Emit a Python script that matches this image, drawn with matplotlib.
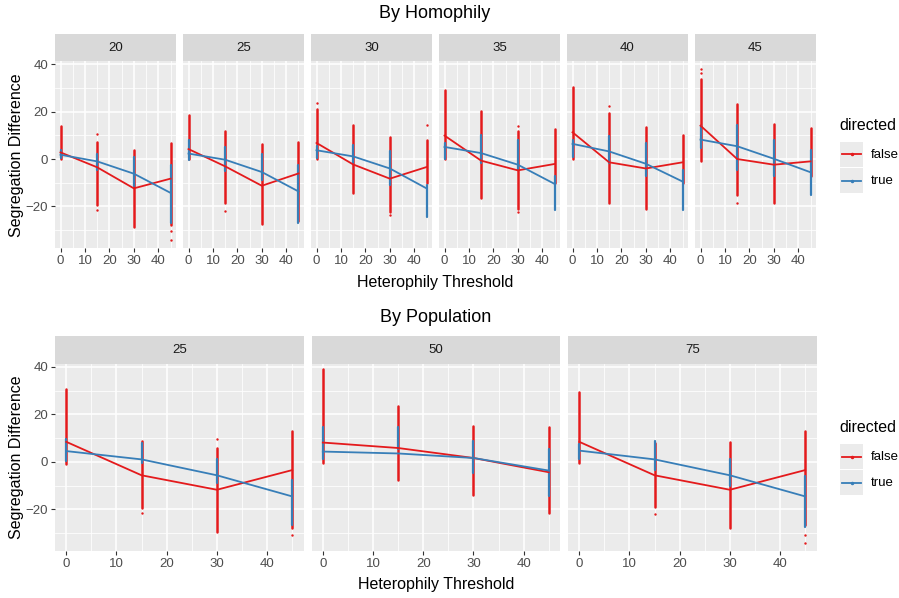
import matplotlib.pyplot as plt

plt.rcParams['font.family'] = ['Liberation Sans', 'DejaVu Sans']

RED = '#E41A1C'
BLUE = '#377EB8'

thresholds = [0, 15, 30, 45]

# ---- By Homophily ----
homophily = ['20', '25', '30', '35', '40', '45']
homo_false_mean = [[2.8, -3.5, -12.4, -8.3], [4.2, -3.1, -11.3, -6.1], [6.8, -2.3, -8.3, -3.4],
                   [9.9, -0.7, -4.8, -2.1], [11.3, -1.4, -4.0, -1.4], [14.1, 0.0, -2.4, -1.0]]
homo_true_mean = [[1.8, -1.0, -6.2, -14.3], [2.3, -0.3, -5.5, -13.7], [3.7, 1.1, -4.0, -12.4],
                  [5.1, 2.5, -2.4, -10.5], [6.4, 3.2, -2.0, -9.5], [8.2, 5.4, 0.1, -5.6]]
homo_false_hi = [[13.8, 7.0, 3.7, 6.8], [18.4, 12.0, 6.5, 7.0], [21.2, 14.4, 9.3, 8.2],
                 [29.0, 20.2, 12.0, 12.7], [30.4, 19.5, 13.6, 10.3], [33.6, 23.4, 14.8, 13.1]]
homo_false_lo = [[0.0, -19.5, -28.8, -27.8], [0.0, -18.4, -27.4, -26.0], [0.0, -14.4, -22.2, -10.0],
                 [0.0, -16.5, -21.0, -10.2], [0.0, -18.6, -21.2, -10.0], [-1.0, -15.4, -18.6, -7.3]]
homo_true_hi = [[4.0, 2.0, 1.0, -2.4], [8.0, 5.0, 2.0, -2.5], [5.4, 6.0, 3.2, -10.9],
                [6.8, 10.3, 8.2, -7.3], [8.2, 9.6, 6.8, -4.5], [13.8, 14.5, 8.2, 4.0]]
homo_true_lo = [[0.4, -4.5, -11.6, -27.0], [-0.3, -5.0, -9.0, -27.0], [0.4, -1.7, -10.9, -24.3],
                [0.0, -1.7, -4.5, -21.5], [1.0, -1.7, -7.3, -21.5], [4.7, -4.5, -7.3, -15.1]]
homo_false_extra = [[(15, 10.7), (15, -21.5), (45, -30.5), (45, -34.2)],
                    [(15, -21.8)],
                    [(0, 23.7), (45, 14.4), (30, -23.7)],
                    [(30, 14.1), (30, -22.2)],
                    [(15, 22.6)],
                    [(0, 38.1), (0, 36.5), (15, -18.6)]]

# ---- By Population ----
population = ['25', '50', '75']
pop_false_mean = [[8.4, -5.7, -11.8, -3.5], [8.1, 5.8, 1.6, -4.4], [8.4, -5.7, -11.8, -3.5]]
pop_true_mean = [[4.5, 1.0, -5.7, -14.6], [4.3, 3.5, 1.6, -3.7], [4.7, 1.0, -5.7, -14.6]]
pop_false_hi = [[30.8, 8.8, 6.0, 12.9], [38.9, 23.7, 14.9, 14.5], [29.6, 8.1, 8.4, 12.8]]
pop_false_lo = [[-1.1, -19.5, -29.5, -28.0], [-0.4, -7.5, -14.2, -21.7], [-0.4, -19.1, -28.1, -26.7]]
pop_true_hi = [[9.5, 8.1, 1.0, -7.5], [14.5, 14.5, 8.8, 5.2], [7.4, 8.8, 1.0, -6.1]]
pop_true_lo = [[0.3, -0.4, -8.9, -26.7], [1.0, 5.2, -4.7, -14.6], [1.0, -3.3, -10.4, -27.4]]
pop_false_extra = [[(30, 9.8), (15, -21.7), (45, -30.9)],
                   [],
                   [(15, -22.0), (45, -30.9), (45, -34.2)]]

W, H = 899, 598
fig = plt.figure(figsize=(W / 100, H / 100), dpi=100)


def px_axes(x, y, w, h):
    return fig.add_axes([x / W, 1 - (y + h) / H, w / W, h / H])


def draw_panel(ax, fm, tm, fhi, flo, thi, tlo, extra, show_y):
    ax.set_facecolor('#EBEBEB')
    ax.set_xlim(-2.25, 47.25)
    ax.set_ylim(-37.6, 41.2)
    ax.set_xticks([0, 10, 20, 30, 40])
    ax.set_xticks([5, 15, 25, 35, 45], minor=True)
    ax.set_yticks([-20, 0, 20, 40])
    ax.set_yticks([-30, -10, 10, 30], minor=True)
    ax.grid(which='major', color='white', lw=1.1)
    ax.grid(which='minor', color='white', lw=0.55)
    ax.set_axisbelow(True)
    for s in ax.spines.values():
        s.set_visible(False)
    ax.tick_params(which='minor', length=0)
    ax.tick_params(which='major', length=3, width=0.8, color='#333333',
                   labelcolor='#4D4D4D', labelsize=9.5, pad=2)
    if not show_y:
        ax.tick_params(axis='y', length=0, labelleft=False)
    ax.vlines(thresholds, flo, fhi, color=RED, lw=1.8, capstyle='round', zorder=2)
    ax.vlines(thresholds, tlo, thi, color=BLUE, lw=1.6, capstyle='round', zorder=2)
    if extra:
        ax.scatter([p[0] for p in extra], [p[1] for p in extra], s=3, color=RED, lw=0, zorder=2)
    ax.plot(thresholds, fm, color=RED, lw=1.3, zorder=3)
    ax.plot(thresholds, tm, color=BLUE, lw=1.3, zorder=3)


def draw_strip(x, y, w, h, label):
    sa = px_axes(x, y, w, h)
    sa.set_facecolor('#D9D9D9')
    sa.set_xticks([])
    sa.set_yticks([])
    for s in sa.spines.values():
        s.set_visible(False)
    sa.text(0.5, 0.5, label, ha='center', va='center', fontsize=9.5, color='#1A1A1A',
            transform=sa.transAxes)


def draw_legend(y_title):
    fig.text(839 / W, 1 - y_title / H, 'directed', ha='left', va='center', fontsize=11.5)
    for i, (lab, col) in enumerate([('false', RED), ('true', BLUE)]):
        top = y_title + 17 + i * 26
        ka = px_axes(840, top, 23, 25)
        ka.set_facecolor('#EBEBEB')
        ka.set_xticks([])
        ka.set_yticks([])
        for s in ka.spines.values():
            s.set_visible(False)
        ka.set_xlim(0, 1)
        ka.set_ylim(0, 1)
        ka.plot([0.1, 0.9], [0.5, 0.5], color=col, lw=1.3)
        ka.plot([0.5], [0.5], 'o', color=col, ms=1.5)
        fig.text(871 / W, 1 - (top + 12.5) / H, lab, ha='left', va='center', fontsize=9.5)


# top block
fig.text(435 / W, 1 - 14 / H, 'By Homophily', ha='center', va='center', fontsize=13)
for i, lab in enumerate(homophily):
    x0 = 55 + i * 128
    draw_strip(x0, 34, 121, 27.5, lab)
    ax = px_axes(x0, 61.5, 121, 186.5)
    draw_panel(ax, homo_false_mean[i], homo_true_mean[i], homo_false_hi[i], homo_false_lo[i],
               homo_true_hi[i], homo_true_lo[i], homo_false_extra[i], i == 0)
fig.text(435 / W, 1 - 282 / H, 'Heterophily Threshold', ha='center', va='center', fontsize=11.5)
fig.text(17 / W, 1 - 155 / H, 'Segregation Difference', ha='center', va='center',
         rotation=90, fontsize=11.5)
draw_legend(125)

# bottom block
fig.text(436 / W, 1 - 317 / H, 'By Population', ha='center', va='center', fontsize=13)
for i, lab in enumerate(population):
    x0 = 55 + i * 256.5
    draw_strip(x0, 336, 248.5, 28, lab)
    ax = px_axes(x0, 364, 248.5, 187)
    draw_panel(ax, pop_false_mean[i], pop_true_mean[i], pop_false_hi[i], pop_false_lo[i],
               pop_true_hi[i], pop_true_lo[i], pop_false_extra[i], i == 0)
fig.text(436 / W, 1 - 584 / H, 'Heterophily Threshold', ha='center', va='center', fontsize=11.5)
fig.text(17 / W, 1 - 457 / H, 'Segregation Difference', ha='center', va='center',
         rotation=90, fontsize=11.5)
draw_legend(427)

fig.savefig('out.png', dpi=100)
